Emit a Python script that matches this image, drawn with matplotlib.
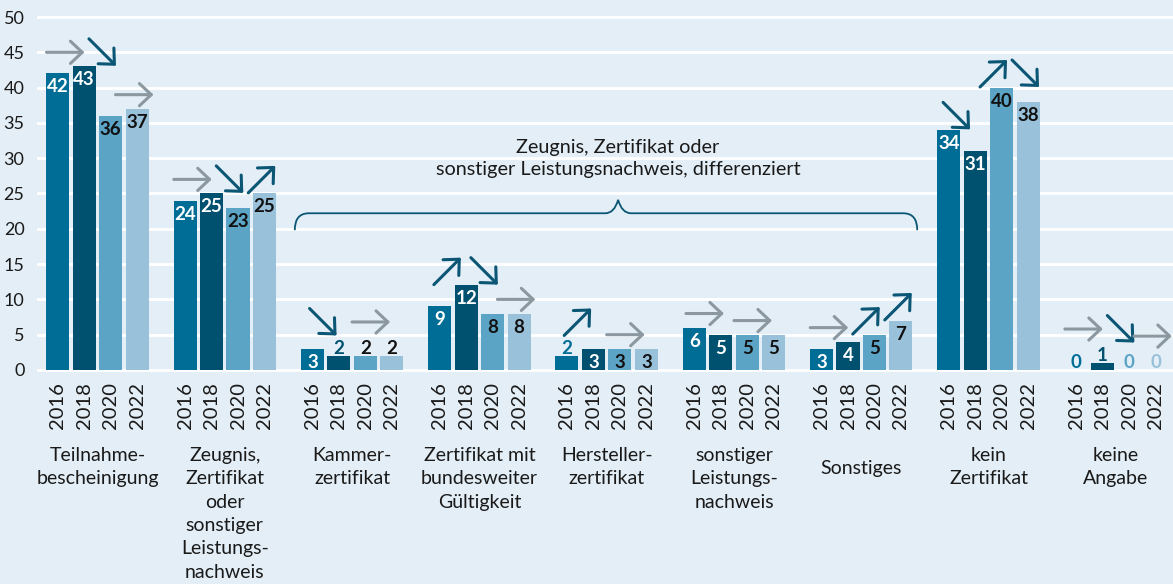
import numpy as np
import matplotlib
matplotlib.use('Agg')
import matplotlib.pyplot as plt
from matplotlib.path import Path
from matplotlib.patches import PathPatch
from matplotlib.transforms import ScaledTranslation

plt.rcParams['font.family'] = ['Lato', 'DejaVu Sans']

# 数据 ************************************************************
categories = ['Teilnahme-\nbescheinigung',
              'Zeugnis,\nZertifikat\noder\nsonstiger\nLeistungs-\nnachweis',
              'Kammer-\nzertifikat',
              'Zertifikat mit\nbundesweiter\nGültigkeit',
              'Hersteller-\nzertifikat',
              'sonstiger\nLeistungs-\nnachweis',
              'Sonstiges',
              'kein\nZertifikat',
              'keine\nAngabe']
years = ['2016', '2018', '2020', '2022']
v2016 = [42, 24, 3, 9, 2, 6, 3, 34, 0]
v2018 = [43, 25, 2, 12, 3, 5, 4, 31, 1]
v2020 = [36, 23, 2, 8, 3, 5, 5, 40, 0]
v2022 = [37, 25, 2, 8, 3, 5, 7, 38, 0]
# Trend 2016->2018, 2018->2020, 2020->2022 ('=' gleich, 'up', 'down', None = kein Pfeil)
trends = [['=', 'down', '='],
          ['=', 'down', 'up'],
          ['down', '=', None],
          ['up', 'down', '='],
          ['up', '=', None],
          ['=', '=', None],
          ['=', 'up', 'up'],
          ['down', 'up', 'down'],
          ['=', 'down', '=']]
brace_text = 'Zeugnis, Zertifikat oder\nsonstiger Leistungsnachweis, differenziert'

# 样式 ************************************************************
bg = '#e3eef6'
colors = ['#006d96', '#00506f', '#5ba4c6', '#99c1da']
lbl_in = ['white', 'white', '#111111', '#111111']
c_gray = '#8b989f'
c_dark = '#0b5674'
c_text = '#1a1a1a'
offsets = np.array([-0.312, -0.104, 0.104, 0.312])
bw = 0.181
px = 1 / 127.3          # Datenbreite eines Pixels (x)
slots = {3: [-32, 5, 37], 2: [-29, 19]}

values = np.array([v2016, v2018, v2020, v2022])
n = len(categories)
x = np.arange(n)

fig = plt.figure(figsize=(11.73, 5.84), dpi=100, facecolor=bg)
ax = fig.add_axes([37 / 1173, 211.9 / 584, 1 - 37 / 1173, 357.2 / 584])
ax.set_facecolor(bg)
ax.set_xlim(-0.475, 8.449)
ax.set_ylim(-0.3, 50.3)
for s in ax.spines.values():
    s.set_visible(False)
ax.set_yticks(range(0, 51, 5))
ax.grid(axis='y', color='white', lw=2)
ax.set_axisbelow(True)
ax.tick_params(axis='y', length=0, pad=9, labelsize=13, labelcolor=c_text)

# 柱子
for k in range(4):
    ax.bar(x + offsets[k], values[k], width=bw, color=colors[k], zorder=2)

# 数字
def shift(dx, dy):
    return ax.transData + ScaledTranslation(dx / 100, dy / 100, fig.dpi_scale_trans)

eff = values.astype(float)
for k in range(4):
    for i in range(n):
        v = values[k, i]
        if v >= 3:
            ax.text(x[i] + offsets[k], v, str(v), ha='center', va='center', fontsize=13.5,
                    fontweight='bold', color=lbl_in[k], transform=shift(0, -13.5), zorder=3)
        else:
            c = colors[k] if (v == 0 or k < 2) else '#111111'
            ax.text(x[i] + offsets[k], v, str(v), ha='center', va='baseline', fontsize=13.5,
                    fontweight='bold', color=c, transform=shift(0, 2), zorder=3)
            eff[k, i] = v + 2.8

# 箭头
for i in range(n):
    active = [j for j in range(3) if trends[i][j] is not None]
    for s, j in zip(slots[len(active)], active):
        t = trends[i][j]
        cx = x[i] + s * px
        cy = max(eff[j, i], eff[j + 1, i]) + 2
        if t == '=':
            a, b, col = (-19, 0), (19, 0), c_gray
        elif t == 'up':
            a, b, col = (-13.5, -13.5), (13.5, 13.5), c_dark
        else:
            a, b, col = (-13.5, 13.5), (13.5, -13.5), c_dark
        ax.annotate('', xy=(cx, cy), xycoords=shift(*b), xytext=(cx, cy), textcoords=shift(*a),
                    arrowprops=dict(arrowstyle='->,head_length=0.85,head_width=0.8', lw=2.2,
                                    color=col, shrinkA=0, shrinkB=0, mutation_scale=10),
                    zorder=4)

# 年份
ax.set_xticks((x[:, None] + offsets[None, :]).ravel())
ax.set_xticklabels(years * n, rotation=90, fontsize=14.5, color=c_text)
ax.tick_params(axis='x', length=0, pad=7)

# 类别
for i, lab in enumerate(categories):
    off = -75 if '\n' in lab else -88
    ax.annotate(lab, xy=(x[i], 0), xycoords=('data', 'axes fraction'), xytext=(0, off),
                textcoords='offset pixels', ha='center', va='top', fontsize=14,
                linespacing=1.45, color=c_text, annotation_clip=False)

# 括号
xl, xr, xt = 2 - 0.45, 6 + 0.44, 4.09
yb, ym, yt = 19.8, 22.2, 24.1
rx, tx = 0.11, 0.1
verts = [(xl, yb), (xl, ym), (xl + rx, ym), (xt - tx, ym), (xt - tx * 0.3, ym), (xt, yt),
         (xt + tx * 0.3, ym), (xt + tx, ym), (xr - rx, ym), (xr, ym), (xr, yb)]
codes = [Path.MOVETO, Path.CURVE3, Path.CURVE3, Path.LINETO, Path.CURVE3, Path.CURVE3,
         Path.CURVE3, Path.CURVE3, Path.LINETO, Path.CURVE3, Path.CURVE3]
ax.add_patch(PathPatch(Path(verts, codes), fill=False, ec=c_dark, lw=1.3, zorder=3))
ax.text(xt, 29.95, brace_text, ha='center', va='center', fontsize=14.3, linespacing=1.3,
        color=c_text)

fig.savefig('out.png', dpi=100, facecolor=bg)
